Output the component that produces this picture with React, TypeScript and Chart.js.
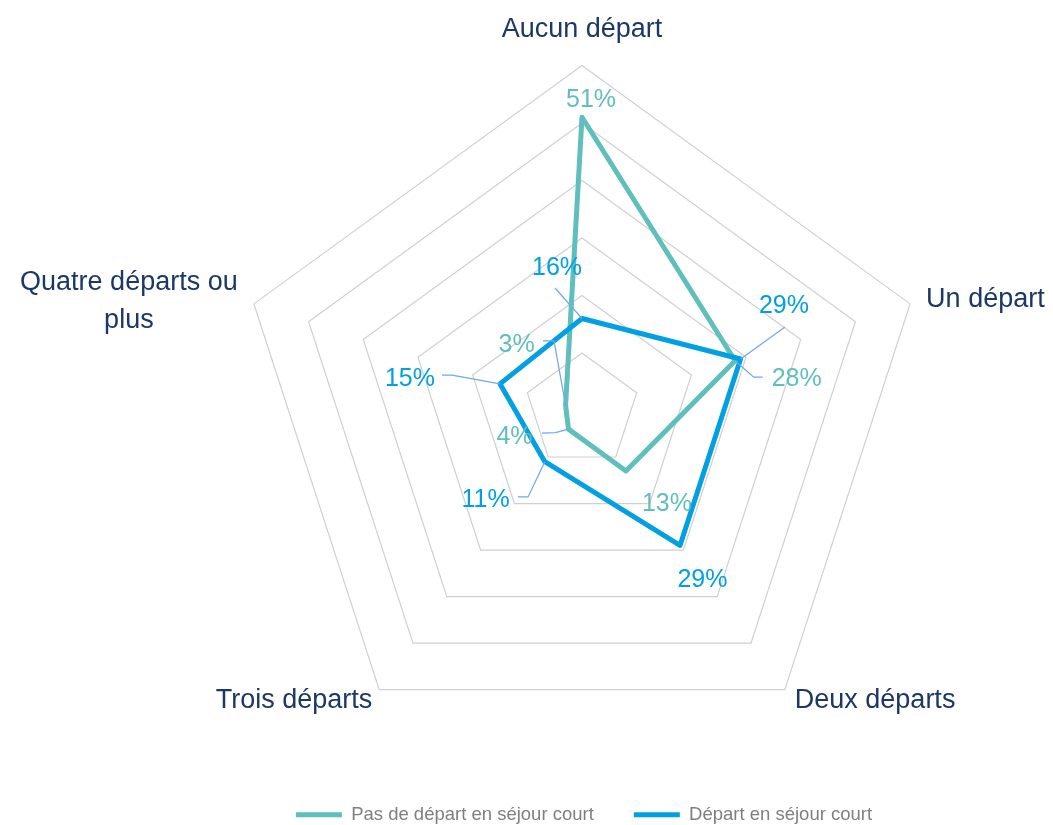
import React, { useEffect, useRef } from "react";
import { Chart, registerables } from "chart.js";

Chart.register(...registerables);

// ---- Data ----
const categories: (string | string[])[] = [
  "Aucun départ",
  "Un départ",
  "Deux départs",
  "Trois départs",
  ["Quatre départs ou", "plus"],
];
const seriesNames = ["Pas de départ en séjour court", "Départ en séjour court"];
const pasDeDepart = [51, 28, 13, 4, 3];
const departSejourCourt = [16, 29, 29, 11, 15];
const scaleMin = 0;
const scaleMax = 60;
const scaleStep = 10;

// ---- Styles / layout (not data) ----
const TEAL = "#5FBFBC";
const BLUE = "#00A0E3";
const NAVY = "#1B3866";
const GRID = "#D0D0D0";
const LEADER = "#6FA6F0";
const LEGEND_TEXT = "#7F7F7F";
const FONT = '"Liberation Sans", Arial, sans-serif';

const radarGeometry = { cx: 582, cy: 410.5, radius: 345 };

// offsets from each axis' outer vertex (to the text baseline)
const categoryLayout = [
  { align: "center", dx: 0, dy: -28.5, gap: 0 },
  { align: "left", dx: 16, dy: 3, gap: 0 },
  { align: "left", dx: 10, dy: 18.5, gap: 0 },
  { align: "right", dx: -7, dy: 18.5, gap: 0 },
  { align: "center", dx: -125, dy: -13.5, gap: 38 },
];

// data label offsets from the point (text centre x, baseline y) and leader line points
type LabelLayout = { dx: number; dy: number; leader?: number[][] };
const tealLabelLayout: LabelLayout[] = [
  { dx: 9, dy: -10 },
  { dx: 61.6, dy: 25.4, leader: [[27.6, 16.4], [18.6, 16.4]] },
  { dx: 41, dy: 40 },
  { dx: -54, dy: 15, leader: [[-26.5, 4], [-13, 3.5]] },
  { dx: -49, dy: -53, leader: [[-22.6, -64.2], [-11.6, -64.2]] },
];
const blueLabelLayout: LabelLayout[] = [
  { dx: -25, dy: -43.5, leader: [[-27, -30.5]] },
  { dx: 43.4, dy: -46, leader: [[44.4, -32]] },
  { dx: 22.4, dy: 41.6 },
  { dx: -59.3, dy: 45.3, leader: [[-26.8, 35.3], [-16.8, 35.3]] },
  { dx: -90, dy: 2, leader: [[-58, -8.8], [-48, -8.8]] },
];
const labelLayouts = [tealLabelLayout, blueLabelLayout];

const labelsPlugin = {
  id: "excelLabels",
  afterDatasetsDraw(chart: any) {
    const ctx: CanvasRenderingContext2D = chart.ctx;
    const scale = chart.scales.r;
    ctx.save();
    // category labels
    ctx.font = `27px ${FONT}`;
    ctx.fillStyle = NAVY;
    ctx.textBaseline = "alphabetic";
    categories.forEach((cat, i) => {
      const p = scale.getPointPosition(i, scale.drawingArea);
      const lay = categoryLayout[i];
      const lines = Array.isArray(cat) ? cat : [cat];
      ctx.textAlign = lay.align as CanvasTextAlign;
      lines.forEach((line, j) => {
        ctx.fillText(line, p.x + lay.dx, p.y + lay.dy + j * lay.gap);
      });
    });
    // data labels with leader lines
    ctx.font = `25px ${FONT}`;
    ctx.textAlign = "center";
    chart.data.datasets.forEach((ds: any, di: number) => {
      const meta = chart.getDatasetMeta(di);
      meta.data.forEach((el: any, i: number) => {
        const lay = labelLayouts[di][i];
        const x = el.x;
        const y = el.y;
        if (lay.leader) {
          ctx.beginPath();
          ctx.strokeStyle = LEADER;
          ctx.lineWidth = 1.2;
          lay.leader.forEach((pt, k) => {
            if (k === 0) ctx.moveTo(x + pt[0], y + pt[1]);
            else ctx.lineTo(x + pt[0], y + pt[1]);
          });
          ctx.lineTo(x, y);
          ctx.stroke();
        }
        ctx.fillStyle = ds.borderColor;
        ctx.fillText(`${ds.data[i]}%`, x + lay.dx, y + lay.dy);
      });
    });
    ctx.restore();
  },
};

export default function App() {
  const canvasRef = useRef<HTMLCanvasElement | null>(null);

  useEffect(() => {
    if (!canvasRef.current) return;
    const chart = new Chart(canvasRef.current, {
      type: "radar",
      data: {
        labels: categories as any,
        datasets: [
          {
            label: seriesNames[0],
            data: pasDeDepart,
            borderColor: TEAL,
            backgroundColor: TEAL,
            borderWidth: 5,
            fill: false,
            pointRadius: 0,
            pointHoverRadius: 0,
            pointStyle: "line",
            borderCapStyle: "round",
            borderJoinStyle: "round",
            tension: 0,
            order: 1,
          },
          {
            label: seriesNames[1],
            data: departSejourCourt,
            borderColor: BLUE,
            backgroundColor: BLUE,
            borderWidth: 5,
            fill: false,
            pointRadius: 0,
            pointHoverRadius: 0,
            pointStyle: "line",
            borderCapStyle: "round",
            borderJoinStyle: "round",
            tension: 0,
            order: 0,
          },
        ],
      },
      options: {
        animation: false,
        responsive: true,
        maintainAspectRatio: false,
        events: [],
        layout: { padding: { left: 115, right: 0, top: 0, bottom: -9 } },
        scales: {
          r: {
            min: scaleMin,
            max: scaleMax,
            ticks: { display: false, stepSize: scaleStep },
            grid: { color: GRID, lineWidth: 1.2, circular: false },
            angleLines: { display: false },
            pointLabels: { display: false },
            afterFit: (scale: any) => {
              scale.xCenter = radarGeometry.cx;
              scale.yCenter = radarGeometry.cy;
              scale.drawingArea = radarGeometry.radius;
            },
          },
        },
        plugins: {
          tooltip: { enabled: false },
          legend: {
            position: "bottom",
            labels: {
              usePointStyle: true,
              pointStyle: "line",
              pointStyleWidth: 46,
              padding: 40,
              color: LEGEND_TEXT,
              font: { size: 18.5, family: FONT },
              sort: (a: any, b: any) => a.datasetIndex - b.datasetIndex,
            },
          },
        },
      },
      plugins: [labelsPlugin],
    });
    return () => chart.destroy();
  }, []);

  return (
    <div style={{ position: "absolute", left: 0, top: 0, width: 1053, height: 825, background: "#fff" }}>
      <canvas ref={canvasRef} />
    </div>
  );
}
